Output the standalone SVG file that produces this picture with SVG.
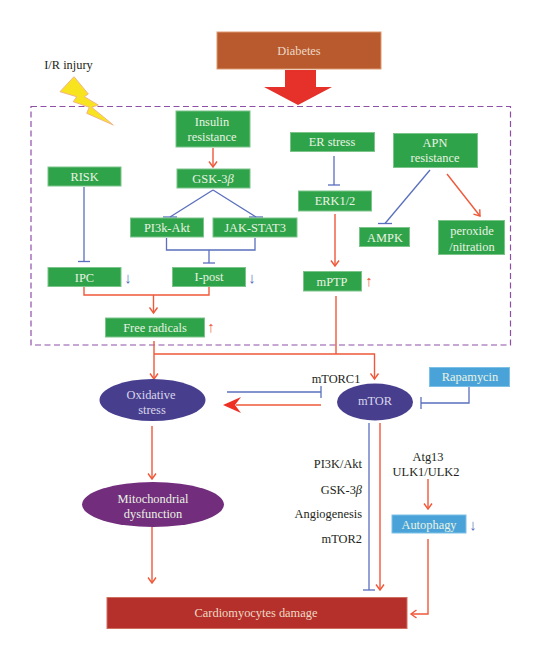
<svg xmlns="http://www.w3.org/2000/svg" width="542" height="660" viewBox="0 0 542 660">
<style>
text{font-family:"Liberation Serif",serif;font-size:12.4px;text-anchor:middle}
.g{fill:#2fa349;stroke:#7cc48a;stroke-width:1}
.b{fill:#4aa3d8;stroke:#7cc0e6;stroke-width:1}
.e{fill:#473f8e}
.w{fill:#e9f3e4}
.l{fill:#d9d6ea}
.k{fill:#231f20}
.r{text-anchor:end}
.red{fill:none;stroke:#f0583a;stroke-width:1.4}
.blue{fill:none;stroke:#5a6fbd;stroke-width:1.3}
.up{fill:#f0583a;font-size:15px}
.dn{fill:#5a6fbd;font-size:15px}
</style>
<defs>
<marker id="a" markerUnits="userSpaceOnUse" markerWidth="12" markerHeight="10" refX="8" refY="5" orient="auto"><path d="M2.500 1L8 5L2.500 9" fill="none" stroke="#f0583a" stroke-width="1.400"/></marker>
<marker id="t" markerUnits="userSpaceOnUse" markerWidth="4" markerHeight="14" refX="2" refY="7" orient="auto"><path d="M2 1V13" fill="none" stroke="#5a6fbd" stroke-width="1.300"/></marker>
<marker id="h" markerUnits="userSpaceOnUse" markerWidth="16" markerHeight="4" refX="8" refY="2" orient="0"><path d="M1 2H15" fill="none" stroke="#5a6fbd" stroke-width="1.300"/></marker>
</defs>

<g id="region"><rect x="31" y="106.500" width="479.500" height="238.500" fill="none" stroke="#8e4fa8" stroke-width="1.200" stroke-dasharray="6 3.500"/></g>

<g id="connectors">
<path class="red" d="M213 148V167" marker-end="url(#a)"/>
<path class="blue" d="M213 190L170 217" marker-end="url(#h)"/>
<path class="blue" d="M213 190L256 217" marker-end="url(#h)"/>
<path class="blue" d="M84 187V261.500" marker-end="url(#t)"/>
<path class="blue" d="M166.500 238V250H255V238M209 250V263" marker-end="url(#t)"/>
<path class="red" d="M84 287V295H209V287"/>
<path class="red" d="M153.500 295V313" marker-end="url(#a)"/>
<path class="blue" d="M334 156V185" marker-end="url(#t)"/>
<path class="red" d="M335 214V266" marker-end="url(#a)"/>
<path class="blue" d="M430 170L385 223.500" marker-end="url(#h)"/>
<path class="red" d="M447 174L480 216" marker-end="url(#a)"/>
<path class="red" d="M336 296V354"/>
<path class="red" d="M154 341V379" marker-end="url(#a)"/>
<path class="red" d="M154 354H374.500V379" marker-end="url(#a)"/>
<path class="blue" d="M227 392H321" marker-end="url(#t)"/>
<path class="red" d="M321 405H236"/>
<path d="M223 405L241 397L235 405L241 413Z" fill="#ee2f24"/>
<path class="blue" d="M469 387V403H421" marker-end="url(#t)"/>
<path class="red" d="M152 426V479" marker-end="url(#a)"/>
<path class="red" d="M152 527V583" marker-end="url(#a)"/>
<path class="blue" d="M369 423V590" marker-end="url(#t)"/>
<path class="red" d="M380 423V590" marker-end="url(#a)"/>
<path class="red" d="M428 479V509" marker-end="url(#a)"/>
<path class="red" d="M428 539V614H411" marker-end="url(#a)"/>
</g>

<g id="diabetes"><rect x="217" y="32" width="164" height="37" fill="#b85a2e" stroke="#dd9a70"/><text x="299" y="55" fill="#eed9c6">Diabetes</text></g>
<g id="big-arrow"><path d="M285 70H316V87H332L298 105L264 87H285Z" fill="#e5312a"/></g>
<g id="ir-injury"><text x="68.500" y="69" class="k">I/R injury</text>
<path d="M74 76.700L88.300 94L84.300 96.700L98.300 105L91.700 107.300L113.300 125L86.700 113.300L89.300 107.300L73.300 101.700L76.700 96.700L60 91.700Z" fill="#f8e41e" stroke="#f2b48a" stroke-width="1"/></g>

<g id="insulin"><rect class="g" x="176" y="111" width="74" height="36"/><text class="w" x="212" y="126">Insulin</text><text class="w" x="212" y="140.500">resistance</text></g>
<g id="risk"><rect class="g" x="48" y="167" width="73" height="19"/><text class="w" x="84.500" y="181">RISK</text></g>
<g id="gsk"><rect class="g" x="177" y="169" width="73" height="19"/><text class="w" x="213" y="183">GSK-3<tspan font-style="italic">β</tspan></text></g>
<g id="pi3k"><rect class="g" x="130.500" y="218" width="73" height="19"/><text class="w" x="167" y="232">PI3k-Akt</text></g>
<g id="jak"><rect class="g" x="213" y="218" width="84" height="19"/><text class="w" x="255" y="232">JAK-STAT3</text></g>
<g id="ipc"><rect class="g" x="48" y="267.500" width="73" height="19"/><text class="w" x="84.500" y="282">IPC</text><text class="dn" x="128" y="283">↓</text></g>
<g id="ipost"><rect class="g" x="172.500" y="267.500" width="73" height="19"/><text class="w" x="209" y="281">I-post</text><text class="dn" x="252" y="283">↓</text></g>
<g id="free-radicals"><rect class="g" x="105.500" y="318" width="99" height="19"/><text class="w" x="155" y="332">Free radicals</text><text class="up" x="211" y="332">↑</text></g>
<g id="er-stress"><rect class="g" x="290.500" y="132.500" width="84" height="19"/><text class="w" x="332" y="146">ER stress</text></g>
<g id="apn"><rect class="g" x="393.500" y="133.500" width="84" height="34"/><text class="w" x="435" y="147">APN</text><text class="w" x="435" y="161.500">resistance</text></g>
<g id="erk"><rect class="g" x="298.500" y="191" width="73" height="20"/><text class="w" x="335" y="205">ERK1/2</text></g>
<g id="ampk"><rect class="g" x="359.500" y="227.500" width="50" height="19"/><text class="w" x="385" y="242">AMPK</text></g>
<g id="peroxide"><rect class="g" x="438.500" y="220.500" width="66" height="34"/><text class="w" x="472" y="235">peroxide</text><text class="w" x="472" y="251">/nitration</text></g>
<g id="mptp"><rect class="g" x="303.500" y="271.500" width="58" height="19.500"/><text class="w" x="332" y="286">mPTP</text><text class="up" x="369" y="286">↑</text></g>

<g id="oxidative"><ellipse class="e" cx="152.500" cy="400" rx="53" ry="21"/><text class="l" x="151" y="399">Oxidative</text><text class="l" x="152" y="413.500">stress</text></g>
<g id="mtor"><ellipse class="e" cx="375" cy="402" rx="38" ry="18.500"/><text class="l" x="375" y="405">mTOR</text></g>
<g id="mtorc1"><text class="k" x="336" y="383">mTORC1</text></g>
<g id="rapamycin"><rect class="b" x="429.500" y="367.500" width="80" height="19"/><text class="w" x="470" y="381">Rapamycin</text></g>
<g id="mito"><ellipse cx="153" cy="504.500" rx="71" ry="22.500" fill="#722d7c"/><text class="w" x="153" y="503">Mitochondrial</text><text class="w" x="153" y="518">dysfunction</text></g>
<g id="labels">
<text class="k r" x="362" y="468">PI3K/Akt</text>
<text class="k r" x="362" y="494">GSK-3<tspan font-style="italic">β</tspan></text>
<text class="k r" x="362" y="518">Angiogenesis</text>
<text class="k r" x="362" y="543">mTOR2</text>
<text class="k" x="428" y="461">Atg13</text>
<text class="k" x="426" y="476">ULK1/ULK2</text>
</g>
<g id="autophagy"><rect class="b" x="392" y="515" width="74" height="18"/><text class="w" x="429" y="529">Autophagy</text><text class="dn" x="473" y="530">↓</text></g>
<g id="damage"><rect x="107" y="597.500" width="300" height="31" fill="#b5302a" stroke="#cf6f5f"/><text x="256" y="617" fill="#eed9c6">Cardiomyocytes damage</text></g>
</svg>
